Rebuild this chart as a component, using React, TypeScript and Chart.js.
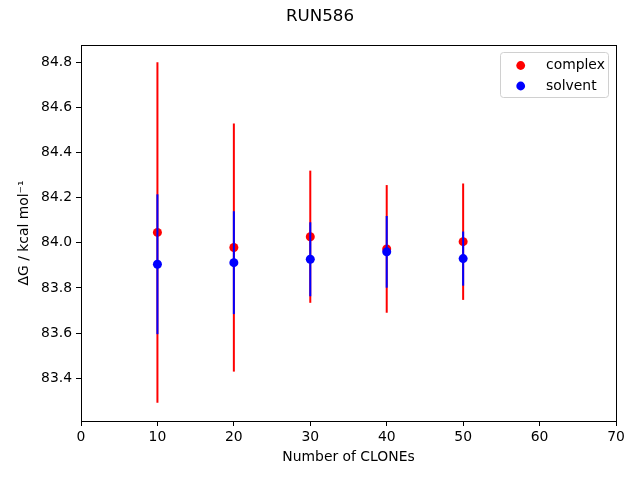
import React, { useEffect, useRef } from "react";
import { Chart, registerables } from "chart.js";

Chart.register(...registerables);

const chartTitle = "RUN586";
const xLabel = "Number of CLONEs";
const yLabel = "ΔG / kcal mol⁻¹";
const clones = [10, 20, 30, 40, 50];
const complexMean = [84.046, 83.979, 84.027, 83.973, 84.005];
const complexErr = [0.755, 0.55, 0.293, 0.283, 0.258];
const solventMean = [83.905, 83.912, 83.927, 83.96, 83.93];
const solventErr = [0.31, 0.228, 0.164, 0.159, 0.12];
const yTicks = [83.4, 83.6, 83.8, 84.0, 84.2, 84.4, 84.6, 84.8];
const xTicks = [0, 10, 20, 30, 40, 50, 60, 70];

const FONT = "'DejaVu Sans', sans-serif";

const errorBarPlugin = {
  id: "errorBars",
  beforeDatasetDraw(chart: any, args: any) {
    const ds = chart.data.datasets[args.index];
    const errs: number[] = ds.errors;
    if (!errs) return;
    const { ctx } = chart;
    const xs = chart.scales.x;
    const ys = chart.scales.y;
    ctx.save();
    ctx.strokeStyle = ds.backgroundColor;
    ctx.lineWidth = 2;
    ds.data.forEach((p: any, i: number) => {
      const x = xs.getPixelForValue(p.x);
      const y1 = ys.getPixelForValue(p.y - errs[i]);
      const y2 = ys.getPixelForValue(p.y + errs[i]);
      ctx.beginPath();
      ctx.moveTo(x, y1);
      ctx.lineTo(x, y2);
      ctx.stroke();
    });
    ctx.restore();
  },
};

const framePlugin = {
  id: "frameAndLegend",
  afterDraw(chart: any) {
    const { ctx, chartArea } = chart;
    ctx.save();
    ctx.strokeStyle = "#000";
    ctx.lineWidth = 1;
    ctx.strokeRect(
      Math.round(chartArea.left) + 0.5,
      Math.round(chartArea.top) + 0.5,
      Math.round(chartArea.right - chartArea.left),
      Math.round(chartArea.bottom - chartArea.top)
    );
    // title
    ctx.fillStyle = "#000";
    ctx.font = `16.7px ${FONT}`;
    ctx.textAlign = "center";
    ctx.textBaseline = "middle";
    ctx.fillText(chartTitle, 320, 17);
    // legend
    const bx = 500.5, by = 52.5, bw = 108, bh = 45, r = 3;
    ctx.fillStyle = "rgba(255,255,255,0.8)";
    ctx.strokeStyle = "#d0d0d0";
    ctx.beginPath();
    ctx.moveTo(bx + r, by);
    ctx.lineTo(bx + bw - r, by);
    ctx.quadraticCurveTo(bx + bw, by, bx + bw, by + r);
    ctx.lineTo(bx + bw, by + bh - r);
    ctx.quadraticCurveTo(bx + bw, by + bh, bx + bw - r, by + bh);
    ctx.lineTo(bx + r, by + bh);
    ctx.quadraticCurveTo(bx, by + bh, bx, by + bh - r);
    ctx.lineTo(bx, by + r);
    ctx.quadraticCurveTo(bx, by, bx + r, by);
    ctx.closePath();
    ctx.fill();
    ctx.stroke();
    ctx.font = `13.9px ${FONT}`;
    ctx.textAlign = "left";
    chart.data.datasets.forEach((ds: any, i: number) => {
      const cy = 65.5 + i * 20.5;
      ctx.fillStyle = ds.backgroundColor;
      ctx.beginPath();
      ctx.arc(520.7, cy, 4.4, 0, Math.PI * 2);
      ctx.fill();
      ctx.fillStyle = "#000";
      ctx.fillText(ds.label, 546, cy);
    });
    ctx.restore();
  },
};

export default function App() {
  const ref = useRef<HTMLCanvasElement>(null);
  useEffect(() => {
    if (!ref.current) return;
    const chart = new Chart(ref.current, {
      type: "scatter",
      data: {
        datasets: [
          {
            label: "complex",
            data: clones.map((x, i) => ({ x, y: complexMean[i] })),
            errors: complexErr,
            backgroundColor: "#ff0000",
            borderColor: "#ff0000",
            pointRadius: 4.5,
            pointBorderWidth: 0,
            order: 1,
          } as any,
          {
            label: "solvent",
            data: clones.map((x, i) => ({ x, y: solventMean[i] })),
            errors: solventErr,
            backgroundColor: "#0000ff",
            borderColor: "#0000ff",
            pointRadius: 4.5,
            pointBorderWidth: 0,
            order: 0,
          } as any,
        ],
      },
      options: {
        responsive: false,
        animation: false,
        layout: { padding: { top: 45, right: 24, left: 0, bottom: 0 } },
        plugins: {
          legend: { display: false },
          title: { display: false },
          tooltip: { enabled: false },
        },
        scales: {
          x: {
            type: "linear",
            min: 0,
            max: 70,
            afterFit: (s: any) => {
              s.height = 59;
            },
            afterBuildTicks: (s: any) => {
              s.ticks = xTicks.map((v) => ({ value: v }));
            },
            ticks: {
              color: "#000",
              font: { family: FONT, size: 13.9 },
              padding: 3,
              maxRotation: 0,
              callback: (v: any) => String(v),
            },
            grid: {
              drawOnChartArea: false,
              drawTicks: true,
              tickLength: 5,
              tickColor: "#000",
            },
            border: { display: true, color: "#000" },
            title: {
              display: true,
              text: xLabel,
              color: "#000",
              font: { family: FONT, size: 13.9 },
              padding: { top: 0, bottom: 14.7 },
            },
          },
          y: {
            type: "linear",
            min: 83.21,
            max: 84.877,
            afterFit: (s: any) => {
              s.width = 81;
            },
            afterBuildTicks: (s: any) => {
              s.ticks = yTicks.map((v) => ({ value: v }));
            },
            ticks: {
              color: "#000",
              font: { family: FONT, size: 13.9 },
              padding: 4,
              callback: (v: any) => Number(v).toFixed(1),
            },
            grid: {
              drawOnChartArea: false,
              drawTicks: true,
              tickLength: 5,
              tickColor: "#000",
            },
            border: { display: true, color: "#000" },
            title: {
              display: true,
              text: yLabel,
              color: "#000",
              font: { family: FONT, size: 13.9 },
              padding: { top: 16, bottom: 0 },
            },
          },
        },
      } as any,
      plugins: [errorBarPlugin, framePlugin],
    });
    return () => chart.destroy();
  }, []);
  return (
    <div style={{ position: "fixed", left: 0, top: 0, width: 640, height: 480, background: "#fff" }}>
      <canvas ref={ref} width={640} height={480} style={{ display: "block" }} />
    </div>
  );
}
